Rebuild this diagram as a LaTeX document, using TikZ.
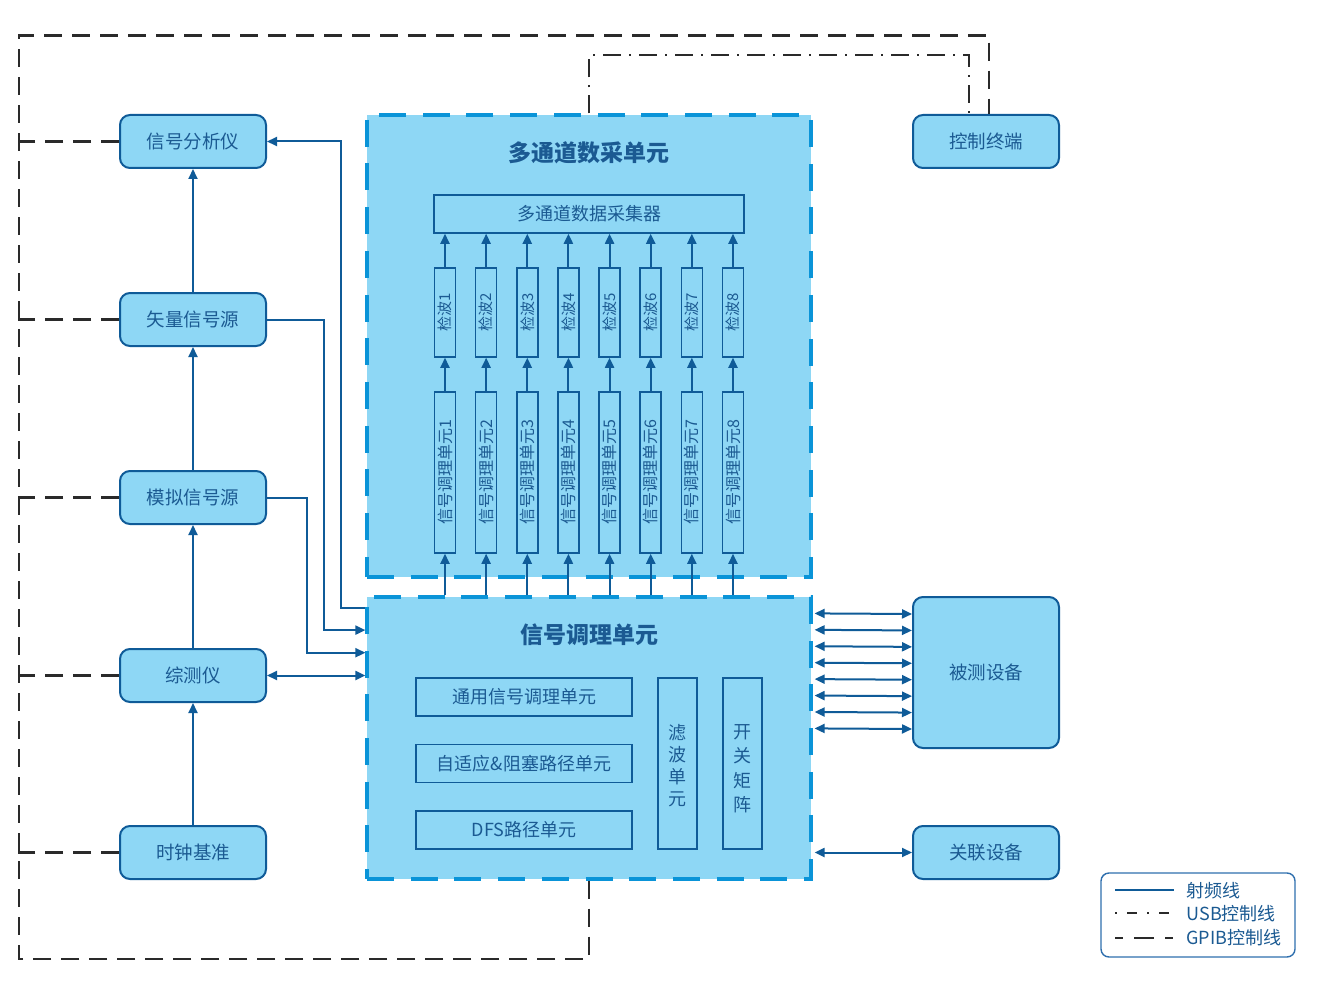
\documentclass[tikz,border=0pt]{standalone}
\usepackage{fontspec}
\setmainfont{Noto Sans CJK SC}
\usepackage{graphicx}
\usetikzlibrary{arrows.meta,calc}
\definecolor{fillblue}{HTML}{8ED7F5}
\definecolor{lineblue}{HTML}{0F5B98}
\definecolor{textblue}{HTML}{1B5A92}
\definecolor{dashblue}{HTML}{0A94D8}
\definecolor{gpibgray}{HTML}{2A2A2A}
\definecolor{legblue}{HTML}{2F6FAE}
\begin{document}
\begin{tikzpicture}[x=1pt,y=-1pt,
 rbox/.style={draw=lineblue, fill=fillblue, line width=2pt, rounded corners=10pt, minimum width=146pt, minimum height=53pt, inner sep=0pt, text=textblue, font=\fontsize{18.5}{20}\selectfont},
 ibox/.style={draw=lineblue, fill=fillblue, line width=1.5pt, inner sep=0pt, text=textblue, font=\fontsize{18}{20}\selectfont},
 bigbox/.style={draw=dashblue, fill=fillblue, line width=3.2pt, dash pattern=on 27pt off 16.7pt, inner sep=0pt, minimum width=444pt},
 ttl/.style={text=textblue, font=\fontsize{23}{25}\selectfont\bfseries, inner sep=0pt},
 rf/.style={draw=lineblue, line width=2pt},
 gpib/.style={draw=gpibgray, line width=2.2pt, dash pattern=on 18pt off 10pt},
 usb/.style={draw=gpibgray, line width=2.2pt, dash pattern=on 18pt off 8pt on 2pt off 8pt},
 tri/.tip={Triangle[length=10pt,width=9pt]},
 legtxt/.style={text=textblue, font=\fontsize{18}{20}\selectfont, anchor=west, inner sep=0pt}
]
\useasboundingbox (0,0) rectangle (1325,987);
\fill[white] (0,0) rectangle (1325,987);

% big boxes
\node[bigbox, minimum height=462pt] (upper) at (589,346) {};
\node[bigbox, minimum height=282pt] (lower) at (589,738) {};
\node[ttl] (t1) at (589,153) {多通道数采单元};
\node[ttl] (t2) at (589,635) {信号调理单元};

% left boxes
\node[rbox] (fxy) at (193,141.5) {信号分析仪};
\node[rbox] (slxh) at (193,319.5) {矢量信号源};
\node[rbox] (mnxh) at (193,497.5) {模拟信号源};
\node[rbox] (zcy) at (193,675.5) {综测仪};
\node[rbox] (szjz) at (193,852.5) {时钟基准};

% right boxes
\node[rbox] (kzzd) at (986,141.5) {控制终端};
\node[rbox, minimum height=151pt] (bcsb) at (986,672.5) {被测设备};
\node[rbox] (glsb) at (986,852.5) {关联设备};

% inner upper
\node[ibox, minimum width=310pt, minimum height=38pt] (coll) at (589,214) {多通道数据采集器};
\foreach \i in {1,...,8}{
  \pgfmathsetmacro{\cx}{445+41.14*(\i-1)}
  \node[ibox, minimum width=21pt, minimum height=89pt, font=\fontsize{15}{16}\selectfont] (jb\i) at (\cx,312.5) {\rotatebox{90}{检波\i}};
  \node[ibox, minimum width=21pt, minimum height=161pt, font=\fontsize{16}{17}\selectfont] (tl\i) at (\cx,472.5) {\rotatebox{90}{信号调理单元\i}};
  \draw[rf,-tri] (jb\i.north) -- (jb\i.north |- coll.south);
  \draw[rf,-tri] (tl\i.north) -- (jb\i.south);
  \draw[rf,-tri] (tl\i.south |- lower.north) -- (tl\i.south);
}

% inner lower
\node[ibox, minimum width=216pt, minimum height=38pt] (ty) at (524,697) {通用信号调理单元};
\node[ibox, minimum width=216pt, minimum height=38pt] (zsy) at (524,763.5) {自适应\&阻塞路径单元};
\node[ibox, minimum width=216pt, minimum height=38pt] (dfs) at (524,830) {DFS路径单元};
\node[ibox, minimum width=39pt, minimum height=171pt,
  label={[yshift=-2.5pt, align=center, inner sep=0pt, text=textblue, font=\fontsize{18}{22}\selectfont]center:滤\\波\\单\\元}] (lb) at (677.5,763.5) {};
\node[ibox, minimum width=39pt, minimum height=171pt,
  label={[yshift=-5pt, align=center, inner sep=0pt, text=textblue, font=\fontsize{18}{24.5}\selectfont]center:开\\关\\矩\\阵}] (kg) at (742.5,763.5) {};

% left vertical arrows
\draw[rf,-tri] (szjz.north) -- (zcy.south);
\draw[rf,-tri] (zcy.north) -- (mnxh.south);
\draw[rf,-tri] (mnxh.north) -- (slxh.south);
\draw[rf,-tri] (slxh.north) -- (fxy.south);

% left to lower box
\draw[rf,-tri] ($(lower.north west)+(0,13)$) -- ++(-24,0) |- (fxy.east);
\draw[rf,-tri] (slxh.east) -- ++(57.3,0) |- ($(lower.north west)+(0,34.7)$);
\draw[rf,-tri] (mnxh.east) -- ++(39.7,0) |- ($(lower.north west)+(0,57.3)$);
\draw[rf,tri-tri] (zcy.east) -- (zcy.east -| lower.west);

% right arrows
\foreach \k in {0,...,7}{
  \draw[rf,tri-tri] ($(lower.north east)+(2,18+16.43*\k)$) -- ($(bcsb.north west)+(0,18+16.43*\k)$);
}
\draw[rf,tri-tri] ($(lower.east |- glsb.west)+(2,0)$) -- (glsb.west);

% GPIB
\draw[gpib] (lower.south) -- ++(0,78) -- ++(-570,0) -- ++(0,-923) -- ++(970,0) -- ($(kzzd.north)+(3,0)$);
\foreach \n in {fxy,slxh,mnxh,zcy,szjz}{
  \draw[gpib] (\n.west) -- ++(-101,0);
}
% USB
\draw[usb] (upper.north) -- ++(0,-58) -- ++(380,0) -- ($(kzzd.north)+(-17,0)$);

% legend
\node[draw=legblue, line width=1.4pt, rounded corners=8pt, minimum width=194pt, minimum height=84pt, inner sep=0pt] (leg) at (1198,915) {};
\draw[rf] ($(leg.north west)+(15,18)$) -- ++(59,0);
\draw[usb, line width=1.8pt, dash pattern=on 2pt off 10pt on 10pt off 10pt] ($(leg.north west)+(15,41)$) -- ++(59,0);
\draw[gpib, line width=2pt, dash pattern=on 8pt off 11pt on 20pt off 11pt] ($(leg.north west)+(15,66)$) -- ++(59,0);
\node[legtxt] (l1) at ($(leg.north west)+(86,18)$) {射频线};
\node[legtxt] (l2) at ($(leg.north west)+(86,41)$) {USB控制线};
\node[legtxt] (l3) at ($(leg.north west)+(86,65)$) {GPIB控制线};
\end{tikzpicture}
\end{document}
